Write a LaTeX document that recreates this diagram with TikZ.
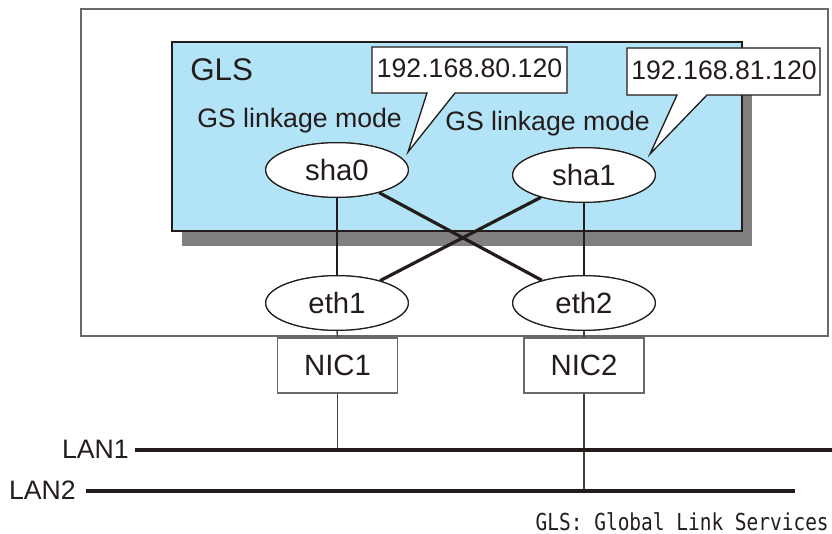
\documentclass[tikz,border=0pt]{standalone}
\usepackage{graphicx}
\usepackage{fontspec}
\setmainfont{Liberation Sans}
\newfontfamily\footfont{DejaVu Sans Mono}
\usetikzlibrary{shapes.geometric}
\definecolor{glsblue}{RGB}{179,227,247}
\definecolor{shadowgray}{RGB}{128,128,128}
\definecolor{framegray}{RGB}{105,105,105}
\definecolor{ink}{RGB}{35,28,26}
\begin{document}
\begin{tikzpicture}[x=0.75pt,y=-0.75pt,
  every node/.style={text=ink},
  ifnode/.style={ellipse, draw=ink, line width=0.9pt, fill=white,
    minimum width=107pt, minimum height=41pt, inner sep=0pt,
    font=\fontsize{22}{26}\selectfont},
  nicbox/.style={rectangle, draw=framegray, line width=1.4pt, fill=white,
    minimum width=90pt, minimum height=41pt, inner sep=0pt,
    font=\fontsize{22}{26}\selectfont},
  labeltext/.style={inner sep=0pt, font=\fontsize{20}{24}\selectfont},
  calloutline/.style={draw=ink, line width=1pt, fill=white, line join=miter},
  thinlink/.style={draw=ink, line width=1.8pt},
  crosslink/.style={draw=ink, line width=2.4pt},
  niclink/.style={draw=ink!85, line width=1pt},
  lanline/.style={draw=ink, line width=3.2pt}
]
\useasboundingbox (0,0) rectangle (832,534);

% outer frame
\draw[framegray, line width=1.5pt] (80.5,9.5) rectangle (828,336.5);

% GLS box with shadow
\fill[shadowgray] (182,57) rectangle (752,246.5);
\draw[fill=glsblue, draw=ink, line width=1.1pt] (172,42) rectangle (742,231);

\node[inner sep=0pt, anchor=base west, font=\fontsize{23.5}{28}\selectfont] (gls) at (190,81) {GLS};
\node[labeltext, anchor=base west] (mode0) at (197,128) {GS linkage mode};
\node[labeltext, anchor=base west] (mode1) at (445,131) {GS linkage mode};

% callouts
\path[calloutline] (372,47) -- (567,47) -- (567,93) -- (455,93) -- (408,152) -- (427,93) -- (372,93) -- cycle;
\node[labeltext, anchor=base] (ip0) at (469.5,77.7) {192.168.80.120};
\path[calloutline] (627,48) -- (820,48) -- (820,95) -- (707,95) -- (650,154) -- (677,95) -- (627,95) -- cycle;
\node[labeltext, anchor=base] (ip1) at (724,80) {192.168.81.120};

% interface nodes
\node[ifnode] (sha0) at (337,170) {sha0};
\node[ifnode] (sha1) at (584,175) {sha1};
\node[ifnode] (eth1) at (337,303) {eth1};
\node[ifnode] (eth2) at (584,303) {eth2};

% links
\draw[thinlink] (sha0.south) -- (eth1.north);
\draw[thinlink] (sha1.south) -- (eth2.north);
\draw[crosslink] (sha0) -- (eth2);
\draw[crosslink] (sha1) -- (eth1);

% redraw ellipses on top of the links
\node[ifnode] at (sha0) {sha0};
\node[ifnode] at (sha1) {sha1};
\node[ifnode] at (eth1) {eth1};
\node[ifnode] at (eth2) {eth2};

% NICs
\node[nicbox] (nic1) at (337.5,365.5) {NIC1};
\node[nicbox] (nic2) at (584,365.5) {NIC2};
\draw[niclink] (eth1.south) -- (nic1.north);
\draw[niclink] (eth2.south) -- (nic2.north);

% LANs
\coordinate (lan1w) at (135,450);
\coordinate (lan1e) at (832,450);
\coordinate (lan2w) at (86,491);
\coordinate (lan2e) at (795,491);
\draw[niclink] (nic1.south) -- (nic1.south |- lan1w);
\draw[niclink] (nic2.south) -- (nic2.south |- lan2w);
\draw[lanline] (lan1w) -- (lan1e);
\draw[lanline] (lan2w) -- (lan2e);
\node[labeltext, anchor=base east] (lan1) at (129,458.5) {LAN1};
\node[labeltext, anchor=base east] (lan2) at (76,499) {LAN2};

% footnote
\node[inner sep=0pt, anchor=base east] (foot) at (829,530)
  {\scalebox{1}[1.2]{\footfont\fontsize{14.6}{17}\selectfont GLS: Global Link Services}};
\end{tikzpicture}
\end{document}
